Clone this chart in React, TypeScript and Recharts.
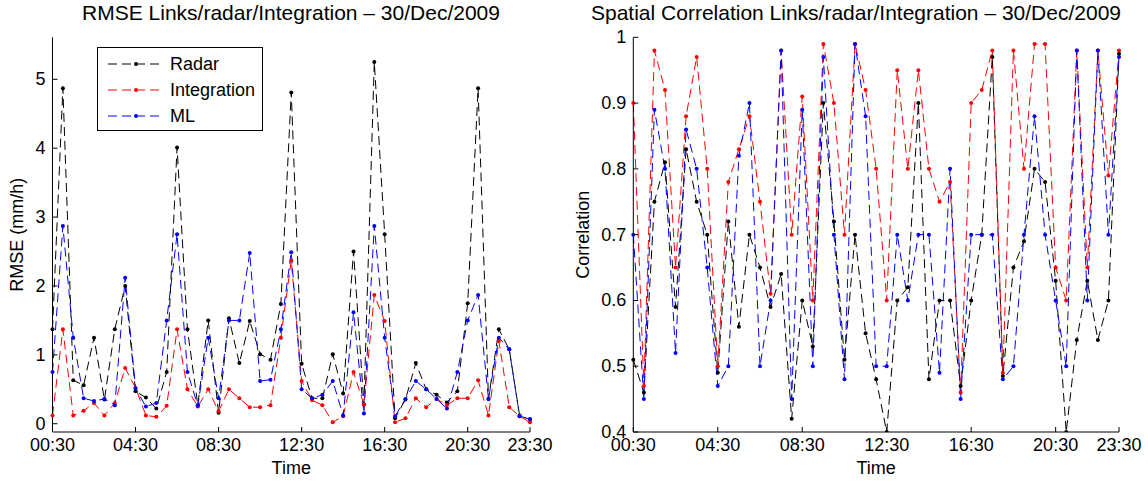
import { Legend, Line, LineChart, XAxis, YAxis } from "recharts";

const FONT = '"Liberation Sans", Arial, Helvetica, sans-serif';

const times = [
  "00:30", "01:00", "01:30", "02:00", "02:30", "03:00", "03:30", "04:00",
  "04:30", "05:00", "05:30", "06:00", "06:30", "07:00", "07:30", "08:00",
  "08:30", "09:00", "09:30", "10:00", "10:30", "11:00", "11:30", "12:00",
  "12:30", "13:00", "13:30", "14:00", "14:30", "15:00", "15:30", "16:00",
  "16:30", "17:00", "17:30", "18:00", "18:30", "19:00", "19:30", "20:00",
  "20:30", "21:00", "21:30", "22:00", "22:30", "23:00", "23:30",
];
const timeTicks = ["00:30", "04:30", "08:30", "12:30", "16:30", "20:30", "23:30"];

// RMSE (mm/h)
const rmseRadar = [
  1.37, 4.87, 0.63, 0.56, 1.25, 0.35, 1.37, 2.0, 0.47, 0.38, 0.22, 0.75,
  4.01, 1.37, 0.27, 1.5, 0.16, 1.53, 0.88, 1.49, 1.01, 0.93, 1.74,
  4.81, 0.87, 0.37, 0.37, 1.01, 0.44, 2.5, 0.28, 5.25, 2.75, 0.08, 0.35,
  0.88, 0.5, 0.42, 0.31, 0.47, 1.75, 4.87, 0.36, 1.37, 1.08, 0.12, 0.06,
];
const rmseIntegration = [
  0.12, 1.37, 0.12, 0.19, 0.3, 0.12, 0.3, 0.81, 0.52, 0.12, 0.1, 0.26,
  1.37, 0.5, 0.25, 0.5, 0.18, 0.5, 0.37, 0.24, 0.24, 0.27, 1.25,
  2.37, 0.62, 0.34, 0.27, 0.02, 0.11, 0.75, 0.28, 1.87, 1.49, 0.02, 0.08,
  0.37, 0.24, 0.36, 0.27, 0.37, 0.37, 0.63, 0.12, 1.2, 0.24, 0.11, 0.02,
];
const rmseML = [
  0.75, 2.87, 1.25, 0.37, 0.33, 0.36, 0.27, 2.12, 0.51, 0.25, 0.3, 1.5,
  2.75, 0.75, 0.26, 1.25, 0.37, 1.5, 1.5, 2.48, 0.62, 0.64, 1.37,
  2.49, 0.5, 0.37, 0.42, 0.62, 0.12, 1.62, 0.15, 2.87, 1.25, 0.11, 0.36,
  0.62, 0.5, 0.36, 0.22, 0.75, 1.5, 1.87, 0.36, 1.25, 1.08, 0.11, 0.07,
];

// spatial correlation
const corrRadar = [
  0.51, 0.46, 0.75, 0.81, 0.59, 0.83, 0.75, 0.7, 0.49, 0.72, 0.56, 0.7,
  0.65, 0.59, 0.64, 0.42, 0.6, 0.53, 0.9, 0.72, 0.51, 0.7, 0.55,
  0.48, 0.4, 0.6, 0.62, 0.9, 0.48, 0.6, 0.6, 0.47, 0.6, 0.7, 0.97,
  0.485, 0.65, 0.69, 0.8, 0.78, 0.63, 0.4, 0.54, 0.63, 0.54, 0.6, 0.975,
];
const corrIntegration = [
  0.9, 0.47, 0.98, 0.92, 0.65, 0.88, 0.97, 0.8, 0.5, 0.78, 0.83, 0.88,
  0.75, 0.61, 0.98, 0.7, 0.91, 0.6, 0.99, 0.9, 0.7, 0.99, 0.92,
  0.8, 0.6, 0.95, 0.8, 0.95, 0.8, 0.75, 0.78, 0.46, 0.9, 0.92, 0.98,
  0.49, 0.98, 0.8, 0.99, 0.99, 0.65, 0.6, 0.98, 0.65, 0.98, 0.79, 0.98,
];
const corrML = [
  0.7, 0.45, 0.89, 0.8, 0.52, 0.86, 0.8, 0.65, 0.47, 0.5, 0.82, 0.9,
  0.5, 0.6, 0.98, 0.45, 0.89, 0.5, 0.97, 0.7, 0.48, 0.99, 0.88,
  0.5, 0.5, 0.7, 0.6, 0.7, 0.7, 0.49, 0.8, 0.45, 0.7, 0.7, 0.7,
  0.48, 0.5, 0.7, 0.88, 0.7, 0.6, 0.5, 0.98, 0.6, 0.98, 0.7, 0.97,
];

const rmseTicks = [0, 1, 2, 3, 4, 5];
const corrTicks = [0.4, 0.5, 0.6, 0.7, 0.8, 0.9, 1];

const series = [
  { key: "radar", name: "Radar", color: "#000000" },
  { key: "integration", name: "Integration", color: "#ff0000" },
  { key: "ml", name: "ML", color: "#0000ff" },
];

const rmseData = times.map((t, i) => ({
  t,
  radar: rmseRadar[i],
  integration: rmseIntegration[i],
  ml: rmseML[i],
}));
const corrData = times.map((t, i) => ({
  t,
  radar: corrRadar[i],
  integration: corrIntegration[i],
  ml: corrML[i],
}));

const TICK_LEN = 5;
const DASH = "9 5";

function BottomTick({ x, y, payload }: any) {
  return (
    <g>
      <line x1={x} y1={y} x2={x} y2={y - TICK_LEN} stroke="#000" />
      <text x={x} y={y + 19} textAnchor="middle" fontSize={18} fontFamily={FONT} fill="#000">
        {payload.value}
      </text>
    </g>
  );
}

function TopTick({ x, y }: any) {
  return <line x1={x} y1={y} x2={x} y2={y + TICK_LEN} stroke="#000" />;
}

function LeftTick({ x, y, payload }: any) {
  return (
    <g>
      <line x1={x} y1={y} x2={x + TICK_LEN} y2={y} stroke="#000" />
      <text x={x - 7} y={y} textAnchor="end" dominantBaseline="central" fontSize={18} fontFamily={FONT} fill="#000">
        {String(payload.value)}
      </text>
    </g>
  );
}

function RightTick({ x, y }: any) {
  return <line x1={x} y1={y} x2={x - TICK_LEN} y2={y} stroke="#000" />;
}

// legend drawn in series order (Recharts would sort it by name)
function MatlabLegend() {
  return (
    <div style={{ width: 164, height: 82, border: "1px solid #000", background: "#fff" }}>
      <svg width={164} height={82} style={{ display: "block" }}>
        {series.map((s, i) => {
          const cy = 16 + i * 26;
          return (
            <g key={s.key}>
              <line x1={10} x2={65} y1={cy} y2={cy} stroke={s.color} strokeDasharray={DASH} />
              <circle cx={38} cy={cy} r={2} fill={s.color} />
              <text x={72} y={cy} dominantBaseline="central" fontSize={18} fontFamily={FONT} fill="#000">
                {s.name}
              </text>
            </g>
          );
        })}
      </svg>
    </div>
  );
}

interface PanelProps {
  data: typeof rmseData;
  width: number;
  yAxisWidth: number;
  marginRight: number;
  yDomain: [number, number];
  yTicks: number[];
  yLabel: string;
  yLabelGap: number;
  showLegend?: boolean;
}

function Panel({ data, width, yAxisWidth, marginRight, yDomain, yTicks, yLabel, yLabelGap, showLegend }: PanelProps) {
  return (
    <LineChart
      width={width}
      height={483}
      data={data}
      margin={{ top: 37.3, right: marginRight, bottom: 0, left: 0 }}
    >
      <XAxis
        dataKey="t"
        type="category"
        ticks={timeTicks}
        interval={0}
        height={51}
        tickSize={0}
        tickMargin={0}
        tickLine={false}
        axisLine={{ stroke: "#000" }}
        tick={<BottomTick />}
        label={{
          content: ({ viewBox }: any) => (
            <text
              x={viewBox.x + viewBox.width / 2}
              y={viewBox.y + 42}
              textAnchor="middle"
              fontSize={18}
              fontFamily={FONT}
              fill="#000"
            >
              Time
            </text>
          ),
        }}
      />
      <XAxis
        xAxisId="top"
        dataKey="t"
        type="category"
        orientation="top"
        ticks={timeTicks}
        interval={0}
        height={0}
        tickSize={0}
        tickMargin={0}
        tickLine={false}
        axisLine={{ stroke: "#000" }}
        tick={<TopTick />}
      />
      <YAxis
        type="number"
        domain={yDomain}
        ticks={yTicks}
        allowDataOverflow
        width={yAxisWidth}
        tickSize={0}
        tickMargin={0}
        tickLine={false}
        axisLine={{ stroke: "#000" }}
        tick={<LeftTick />}
        label={{
          content: ({ viewBox }: any) => {
            const lx = viewBox.x + viewBox.width - yLabelGap;
            const ly = viewBox.y + viewBox.height / 2;
            return (
              <text
                x={lx}
                y={ly}
                transform={`rotate(-90, ${lx}, ${ly})`}
                textAnchor="middle"
                dominantBaseline="central"
                fontSize={18}
                fontFamily={FONT}
                fill="#000"
              >
                {yLabel}
              </text>
            );
          },
        }}
      />
      <YAxis
        yAxisId="right"
        orientation="right"
        type="number"
        domain={yDomain}
        ticks={yTicks}
        allowDataOverflow
        width={0}
        tickSize={0}
        tickMargin={0}
        tickLine={false}
        axisLine={{ stroke: "#000" }}
        tick={<RightTick />}
      />
      {series.map((s) => (
        <Line
          key={s.key}
          dataKey={s.key}
          name={s.name}
          type="linear"
          stroke={s.color}
          strokeWidth={1}
          strokeDasharray={DASH}
          dot={{ r: 2, fill: s.color, stroke: s.color, strokeWidth: 0 }}
          activeDot={false}
          isAnimationActive={false}
        />
      ))}
      {showLegend && (
        <Legend
          layout="vertical"
          align="center"
          verticalAlign="middle"
          content={<MatlabLegend />}
          wrapperStyle={{ left: 97, top: 47, width: 166, height: 84 }}
        />
      )}
    </LineChart>
  );
}

const titleStyle: React.CSSProperties = {
  position: "absolute",
  top: 2,
  fontSize: 21,
  lineHeight: "21px",
  fontFamily: FONT,
  color: "#000",
  textAlign: "center",
  whiteSpace: "nowrap",
};

export default function App() {
  return (
    <div
      style={{
        position: "absolute",
        left: 0,
        top: 0,
        width: 1148,
        height: 483,
        background: "#fff",
        overflow: "hidden",
      }}
    >
      <div style={{ ...titleStyle, left: 31, width: 520 }}>
        RMSE Links/radar/Integration – 30/Dec/2009
      </div>
      <div style={{ ...titleStyle, left: 566, width: 580 }}>
        Spatial Correlation Links/radar/Integration – 30/Dec/2009
      </div>
      <div style={{ position: "absolute", left: 0, top: 0 }}>
        <Panel
          data={rmseData}
          width={560}
          yAxisWidth={52.5}
          marginRight={30}
          yDomain={[-0.12, 5.61]}
          yTicks={rmseTicks}
          yLabel="RMSE (mm/h)"
          yLabelGap={35}
          showLegend
        />
      </div>
      <div style={{ position: "absolute", left: 560, top: 0 }}>
        <Panel
          data={corrData}
          width={588}
          yAxisWidth={73.3}
          marginRight={29}
          yDomain={[0.4, 1]}
          yTicks={corrTicks}
          yLabel="Correlation"
          yLabelGap={50}
        />
      </div>
    </div>
  );
}
